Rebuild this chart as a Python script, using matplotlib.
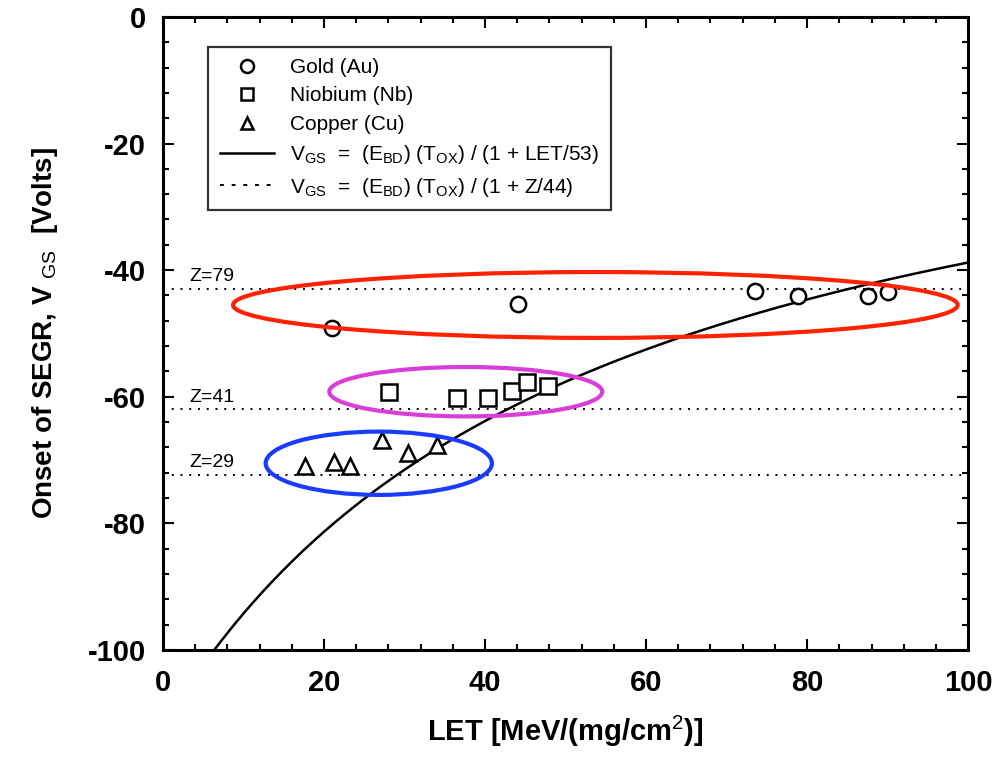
import numpy as np
import matplotlib.pyplot as plt
from matplotlib.lines import Line2D
from matplotlib.patches import Ellipse
from matplotlib.ticker import MultipleLocator
from matplotlib import font_manager

# Fonts: Helvetica-like look
names = {f.name for f in font_manager.fontManager.ttflist}
sans = "Liberation Sans" if "Liberation Sans" in names else "DejaVu Sans"
narrow = "Liberation Sans Narrow" if "Liberation Sans Narrow" in names else sans
plt.rcParams["font.family"] = [sans, "DejaVu Sans"]
plt.rcParams["axes.unicode_minus"] = False
plt.rcParams["mathtext.fontset"] = "custom"
plt.rcParams["mathtext.rm"] = sans
plt.rcParams["mathtext.it"] = sans + ":italic"
plt.rcParams["mathtext.bf"] = sans + ":bold"

# Data
gold_let = [21.0, 44.1, 73.5, 78.9, 87.6, 90.1]
gold_v = [-49.1, -45.3, -43.3, -44.1, -44.1, -43.4]
nb_let = [28.1, 36.5, 40.4, 43.4, 45.2, 47.8]
nb_v = [-59.2, -60.2, -60.2, -59.1, -57.7, -58.3]
cu_let = [17.6, 21.2, 23.2, 27.2, 30.4, 34.0]
cu_v = [-70.9, -70.3, -70.9, -66.8, -68.9, -67.6]

# V_GS = (E_BD)(T_OX)/(1 + LET/53)
ebd_tox = -112.0
let_const = 53.0
z_labels = ["Z=79", "Z=41", "Z=29"]
z_levels = [-43.0, -62.0, -72.3]

fig = plt.figure(figsize=(10.02, 7.67), dpi=100)
ax = fig.add_axes([0.1627, 0.1525, 0.8035, 0.8255])

# fitted curve
x0 = let_const * (ebd_tox / -100.0 - 1)
let = np.linspace(x0, 100, 300)
ax.plot(let, ebd_tox / (1 + let / let_const), color="black", lw=1.8)

# Z levels
for lab, lev in zip(z_labels, z_levels):
    ax.axhline(lev, color="black", lw=1.4, linestyle=(0, (1, 3.5)))
    ax.text(3.3, lev + 0.6, lab, fontsize=14, va="bottom", ha="left")

mk = dict(linestyle="none", mfc="white", mec="black", mew=1.8, ms=11)
ax.plot(gold_let, gold_v, marker="o", **mk, zorder=3)
ax.plot(nb_let, nb_v, marker="s", **mk, zorder=3)
ax.plot(cu_let, cu_v, marker="^", **mk, zorder=3)

# hand-drawn ellipses
ax.add_patch(Ellipse((53.7, -45.5), 90.0, 10.4, fill=False, ec="#ff2200", lw=3, zorder=4))
ax.add_patch(Ellipse((37.6, -59.2), 33.9, 7.8, fill=False, ec="#d93ed9", lw=3, zorder=4))
ax.add_patch(Ellipse((26.8, -70.5), 28.1, 10.0, fill=False, ec="#1a3cff", lw=3, zorder=4))

ax.set_xlim(0, 100)
ax.set_ylim(-100, 0)
ax.xaxis.set_major_locator(MultipleLocator(20))
ax.xaxis.set_minor_locator(MultipleLocator(4))
ax.yaxis.set_major_locator(MultipleLocator(20))
ax.yaxis.set_minor_locator(MultipleLocator(4))
ax.tick_params(which="both", direction="in", top=True, right=True, width=1.5)
ax.tick_params(which="major", length=8)
ax.tick_params(which="minor", length=4)
ax.tick_params(axis="y", labelsize=21, pad=12)
ax.tick_params(axis="x", labelsize=21, pad=14)
for lab in ax.get_xticklabels() + ax.get_yticklabels():
    lab.set_fontweight("bold")
for lab in ax.get_xticklabels():
    lab.set_family(narrow)
for s in ax.spines.values():
    s.set_linewidth(2.2)

ax.set_xlabel("LET [MeV/(mg/cm$^2$)]", fontsize=21, fontweight="bold",
              family=narrow, labelpad=12)
ax.set_ylabel("Onset of SEGR, V $_{\\mathrm{GS}}$  [Volts]", fontsize=20,
              fontweight="bold", labelpad=20)

handles = [
    Line2D([], [], marker="o", **mk),
    Line2D([], [], marker="s", **mk),
    Line2D([], [], marker="^", **mk),
    Line2D([], [], color="black", lw=1.8),
    Line2D([], [], color="black", lw=1.4, linestyle=(0, (2, 4))),
]
labels = [
    "Gold (Au)",
    "Niobium (Nb)",
    "Copper (Cu)",
    "V$_{\\mathrm{GS}}$  =  (E$_{\\mathrm{BD}}$) (T$_{\\mathrm{OX}}$) / (1 + LET/53)",
    "V$_{\\mathrm{GS}}$  =  (E$_{\\mathrm{BD}}$) (T$_{\\mathrm{OX}}$) / (1 + Z/44)",
]
leg = ax.legend(handles, labels, loc="upper left", bbox_to_anchor=(0.056, 0.953),
                borderaxespad=0, fontsize=15, frameon=True, fancybox=False,
                handlelength=2.6, labelspacing=0.45, borderpad=0.55,
                markerscale=0.85)
leg.get_frame().set_edgecolor("black")
leg.get_frame().set_linewidth(1.6)
leg.set_zorder(5)

fig.savefig("out.png", dpi=100)
